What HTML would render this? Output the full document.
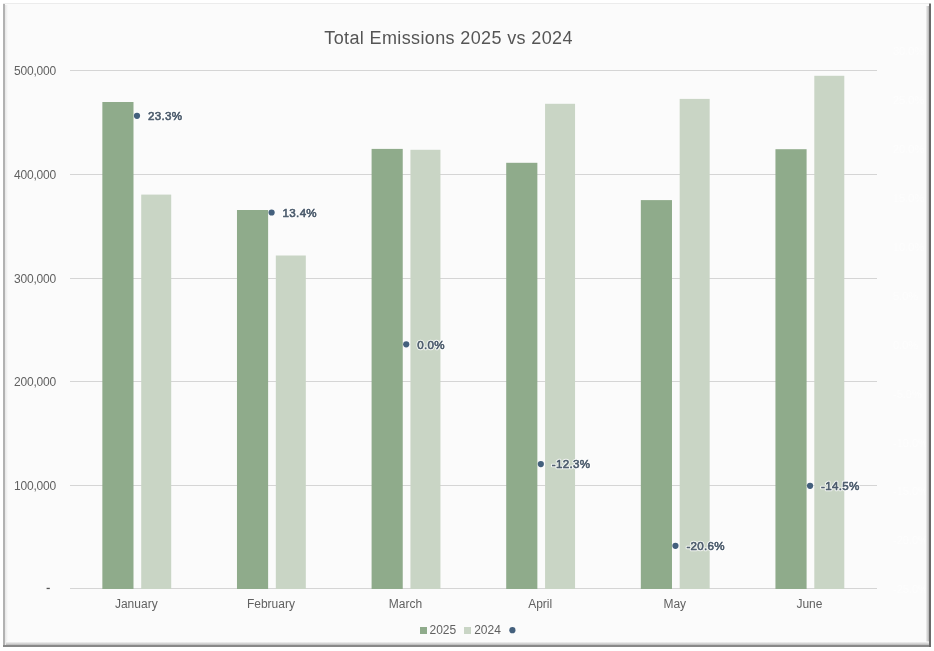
<!DOCTYPE html>
<html><head><meta charset="utf-8"><title>Total Emissions 2025 vs 2024</title>
<style>
html,body{margin:0;padding:0;background:#fff;width:934px;height:651px;overflow:hidden}
svg{display:block;will-change:transform}
text{font-family:"Liberation Sans",sans-serif}
.ax{font-size:12px;fill:#616161}
.yl{letter-spacing:-0.2px}
.gh{font-size:11px;fill:#fdfdfd}
.ti{font-size:18px;fill:#555555;letter-spacing:0.37px}
.plh{font-size:11.6px;letter-spacing:0.3px;fill:none;stroke:#fff;stroke-opacity:0.75;stroke-width:2.6px;stroke-linejoin:round}
.pl{font-size:11.6px;fill:#4a5a6b;stroke:#4a5a6b;stroke-width:0.6px;letter-spacing:0.3px}
</style></head><body>
<svg width="934" height="651" viewBox="0 0 934 651">
<defs>
<linearGradient id="shR" x1="0" x2="1" y1="0" y2="0"><stop offset="0" stop-color="#fbfbfb"/><stop offset="1" stop-color="#b4b4b4"/></linearGradient>
<linearGradient id="shL" x1="0" x2="1" y1="0" y2="0"><stop offset="0" stop-color="#e6e6e6"/><stop offset="1" stop-color="#fbfbfb"/></linearGradient>
<linearGradient id="shB" x1="0" x2="0" y1="0" y2="1"><stop offset="0" stop-color="#fbfbfb"/><stop offset="1" stop-color="#b8b8b8"/></linearGradient>
</defs>
<rect x="0" y="0" width="934" height="651" fill="#ffffff"/>
<rect x="3" y="3" width="927" height="643" fill="#fbfbfb"/>
<rect x="70" y="70" width="807" height="1" fill="#d5d5d5"/>
<rect x="70" y="174" width="807" height="1" fill="#d5d5d5"/>
<rect x="70" y="278" width="807" height="1" fill="#d5d5d5"/>
<rect x="70" y="381" width="807" height="1" fill="#d5d5d5"/>
<rect x="70" y="485" width="807" height="1" fill="#d5d5d5"/>
<rect x="70" y="588" width="807" height="1" fill="#d5d5d5"/>
<text x="56" y="74.80" text-anchor="end" class="ax yl">500,000</text>
<text x="56" y="178.80" text-anchor="end" class="ax yl">400,000</text>
<text x="56" y="282.80" text-anchor="end" class="ax yl">300,000</text>
<text x="56" y="385.80" text-anchor="end" class="ax yl">200,000</text>
<text x="56" y="489.80" text-anchor="end" class="ax yl">100,000</text>
<rect x="46.6" y="587.8" width="3.2" height="1.3" fill="#555"/>
<rect x="102.35" y="102" width="31.15" height="487.00" fill="#8fab8b"/>
<rect x="141.20" y="194.6" width="30" height="394.40" fill="#c9d5c5"/>
<rect x="236.97" y="210" width="31.15" height="379.00" fill="#8fab8b"/>
<rect x="275.82" y="255.5" width="30" height="333.50" fill="#c9d5c5"/>
<rect x="371.59" y="148.9" width="31.15" height="440.10" fill="#8fab8b"/>
<rect x="410.44" y="149.8" width="30" height="439.20" fill="#c9d5c5"/>
<rect x="506.21" y="162.8" width="31.15" height="426.20" fill="#8fab8b"/>
<rect x="545.06" y="103.8" width="30" height="485.20" fill="#c9d5c5"/>
<rect x="640.83" y="200.1" width="31.15" height="388.90" fill="#8fab8b"/>
<rect x="679.68" y="98.9" width="30" height="490.10" fill="#c9d5c5"/>
<rect x="775.45" y="149.2" width="31.15" height="439.80" fill="#8fab8b"/>
<rect x="814.30" y="75.8" width="30" height="513.20" fill="#c9d5c5"/>
<text x="136.30" y="608" text-anchor="middle" class="ax">January</text>
<text x="270.92" y="608" text-anchor="middle" class="ax">February</text>
<text x="405.54" y="608" text-anchor="middle" class="ax">March</text>
<text x="540.16" y="608" text-anchor="middle" class="ax">April</text>
<text x="674.78" y="608" text-anchor="middle" class="ax">May</text>
<text x="809.40" y="608" text-anchor="middle" class="ax">June</text>
<circle cx="137.00" cy="115.8" r="3.1" fill="#44607d"/>
<text x="148.00" y="120.00" class="plh">23.3%</text>
<text x="148.00" y="120.00" class="pl">23.3%</text>
<circle cx="271.61" cy="212.5" r="3.1" fill="#44607d"/>
<text x="282.61" y="216.70" class="plh">13.4%</text>
<text x="282.61" y="216.70" class="pl">13.4%</text>
<circle cx="406.22" cy="344.3" r="3.1" fill="#44607d"/>
<text x="417.22" y="348.50" class="plh">0.0%</text>
<text x="417.22" y="348.50" class="pl">0.0%</text>
<circle cx="540.83" cy="464.1" r="3.1" fill="#44607d"/>
<text x="551.83" y="468.30" class="plh">-12.3%</text>
<text x="551.83" y="468.30" class="pl">-12.3%</text>
<circle cx="675.44" cy="545.8" r="3.1" fill="#44607d"/>
<text x="686.44" y="550.00" class="plh">-20.6%</text>
<text x="686.44" y="550.00" class="pl">-20.6%</text>
<circle cx="810.05" cy="485.8" r="3.1" fill="#44607d"/>
<text x="821.05" y="490.00" class="plh">-14.5%</text>
<text x="821.05" y="490.00" class="pl">-14.5%</text>
<text x="893" y="54.90" class="gh">30.0%</text>
<text x="893" y="103.85" class="gh">25.0%</text>
<text x="893" y="152.80" class="gh">20.0%</text>
<text x="893" y="201.75" class="gh">15.0%</text>
<text x="893" y="250.70" class="gh">10.0%</text>
<text x="893" y="299.65" class="gh">5.0%</text>
<text x="893" y="348.60" class="gh">0.0%</text>
<text x="893" y="397.55" class="gh">-5.0%</text>
<text x="893" y="446.50" class="gh">-10.0%</text>
<text x="893" y="495.45" class="gh">-15.0%</text>
<text x="893" y="544.40" class="gh">-20.0%</text>
<text x="893" y="593.35" class="gh">-25.0%</text>
<text x="448.6" y="44" text-anchor="middle" class="ti">Total Emissions 2025 vs 2024</text>
<rect x="420" y="627" width="7" height="7" fill="#8fab8b"/>
<text x="429.5" y="634.3" class="ax">2025</text>
<rect x="464" y="627" width="7" height="7" fill="#c9d5c5"/>
<text x="474.2" y="634.3" class="ax">2024</text>
<circle cx="512.4" cy="630.2" r="3.1" fill="#44607d"/>
<rect x="3" y="3" width="926" height="1" fill="#ececec"/>
<rect x="5" y="5" width="3" height="640" fill="url(#shL)"/>
<rect x="3" y="4" width="2" height="643" fill="#b2b2b2"/>
<rect x="925.5" y="6" width="3.5" height="639" fill="url(#shR)"/>
<rect x="6" y="641.5" width="923" height="3.5" fill="url(#shB)"/>
<rect x="3" y="645" width="927" height="2" fill="#888"/>
<rect x="929" y="3.5" width="2" height="643.5" fill="#6a6a6a"/>
</svg>
</body></html>
